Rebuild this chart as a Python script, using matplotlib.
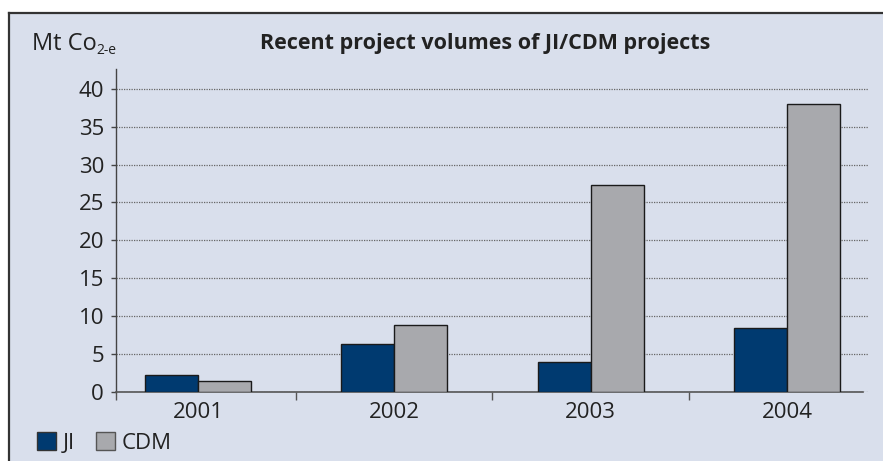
import matplotlib
matplotlib.use("Agg")
import matplotlib.pyplot as plt
from matplotlib.patches import Rectangle, Patch
from matplotlib.lines import Line2D
import numpy as np

years = ["2001", "2002", "2003", "2004"]
ji = [2.3, 6.3, 3.9, 8.4]
cdm = [1.4, 8.9, 27.3, 38.0]
yticks = [0, 5, 10, 15, 20, 25, 30, 35, 40]
title = "Recent project volumes of JI/CDM projects"
series_names = ["JI", "CDM"]

BG = "#d9dfec"
NAVY = "#003a70"
GRAY = "#a8a9ad"
TXT = "#222222"
FONT = "Open Sans"
FS = 16

plt.rcParams["font.family"] = [FONT, "DejaVu Sans"]

W, H = 883, 461
fig = plt.figure(figsize=(W / 100, H / 100), dpi=100)
fig.patch.set_facecolor("white")

# background panel with top/left border
fig.patches.append(Rectangle((9 / W, 0), 1 - 9 / W, (H - 13) / H,
                             transform=fig.transFigure, facecolor=BG,
                             edgecolor="none", zorder=-2))
fig.lines.append(Line2D([9 / W, 1], [(H - 13) / H] * 2, transform=fig.transFigure,
                        color="#333333", lw=1.6, zorder=-1))
fig.lines.append(Line2D([9 / W] * 2, [0, (H - 13) / H], transform=fig.transFigure,
                        color="#333333", lw=1.6, zorder=-1))

ax = fig.add_axes([116 / W, 1 - 392 / H, (868 - 116) / W, (392 - 69) / H])
ax.set_facecolor("none")
ax.set_zorder(2)

x = np.arange(len(years))
bw = 0.27
ax.bar(x - bw / 2, ji, width=bw, color=NAVY, edgecolor="#1a1a1a", lw=1.0, zorder=3)
ax.bar(x + bw / 2, cdm, width=bw, color=GRAY, edgecolor="#1a1a1a", lw=1.0, zorder=3)

ax.set_xlim(-0.418, 3.413)
ax.set_ylim(0, 42.6)

ax.set_yticks(yticks)
ax.set_yticklabels([str(v) for v in yticks], fontsize=FS, color=TXT)
ax.yaxis.grid(True, linestyle=(0, (1, 1)), color="#666666", lw=0.9, zorder=1)
ax.set_axisbelow(True)
ax.tick_params(axis="y", length=3.6, width=1, color="#444444", pad=5, direction="out")

ax.set_xticks([-0.418, 0.5, 1.5, 2.5])
ax.set_xticklabels([])
ax.set_xticks(x, minor=True)
ax.set_xticklabels(years, minor=True, fontsize=FS, color=TXT)
ax.tick_params(axis="x", which="major", length=6, width=1, color="#555555", direction="out")
ax.tick_params(axis="x", which="minor", length=0, pad=7)

for s in ["top", "right"]:
    ax.spines[s].set_visible(False)
ax.spines["left"].set_color("#444444")
ax.spines["left"].set_linewidth(1.0)
ax.spines["bottom"].set_color("#555555")
ax.spines["bottom"].set_linewidth(1.2)
ax.spines["bottom"].set_bounds(-0.418, 3.39)

# title
fig.text(485 / W, 1 - 48.5 / H, title, ha="center", va="baseline",
         fontsize=15.5, fontweight="bold", color=TXT)

# y unit label
t1 = fig.text(32 / W, 1 - 49.5 / H, "Mt Co", ha="left", va="baseline",
              fontsize=FS + 1, color=TXT)
fig.canvas.draw()
bb = t1.get_window_extent()
fig.text(bb.x1 / W, 1 - 54.5 / H, "2-e", ha="left", va="baseline",
         fontsize=10, color=TXT)

# legend
handles = [Patch(facecolor=NAVY, edgecolor="#333333", lw=1.0),
           Patch(facecolor=GRAY, edgecolor="#555555", lw=1.0)]
fig.legend(handles, series_names, loc="lower left",
           bbox_to_anchor=(24 / W, -6 / H), ncol=2, frameon=False,
           fontsize=FS, handlelength=0.85, handleheight=0.85,
           handletextpad=0.3, columnspacing=0.95, labelcolor=TXT,
           borderaxespad=0.2)

fig.savefig("out.png", dpi=100, facecolor="white")
